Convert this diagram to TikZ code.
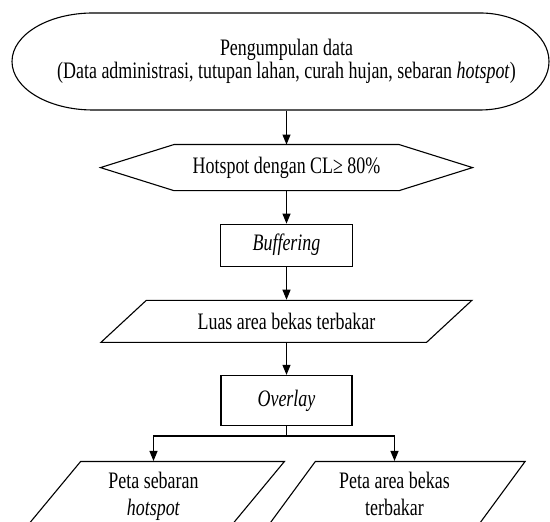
\documentclass[tikz,border=0pt]{standalone}
\usepackage{fontspec}
\setmainfont[FakeStretch=0.76]{Liberation Serif}
\usetikzlibrary{shapes.geometric, arrows.meta, positioning}

\begin{document}
\begin{tikzpicture}[font=\fontsize{11.8pt}{11.5pt}\selectfont, line width=0.55pt,
    >={Triangle[length=5pt, width=4pt]},
    process/.style={draw, minimum width=66pt, minimum height=21pt, inner sep=0pt},
    datashape/.style={draw, trapezium, trapezium stretches=true, inner sep=0pt, align=center}]
    \useasboundingbox (0,0) rectangle (275pt,-261pt);
    \clip (0,0) rectangle (275pt,-261pt);
    % Pengumpulan data
    \node[minimum height=48.5pt, align=center] (collect) at (143.25pt,-30.75pt) {Pengumpulan data\\(Data administrasi, tutupan lahan, curah hujan, sebaran \textit{hotspot})};
    \draw ([xshift=-96.75pt, yshift=24.25pt]collect.center) -- ([xshift=96.75pt, yshift=24.25pt]collect.center)
        arc[start angle=90, end angle=-90, x radius=34.5pt, y radius=24.25pt]
        -- ([xshift=-96.75pt, yshift=-24.25pt]collect.center)
        arc[start angle=270, end angle=90, x radius=40.5pt, y radius=24.25pt] -- cycle;
    % Hotspot
    \node[minimum width=112pt, minimum height=22.5pt, inner sep=0pt, below=17pt of collect] (hotspot) {Hotspot dengan CL≥ 80\%};
    \draw (hotspot.north west) -- (hotspot.north east) -- ([xshift=36.75pt]hotspot.east) -- (hotspot.south east)
        -- (hotspot.south west) -- ([xshift=-36.75pt]hotspot.west) -- cycle;
    % Buffering
    \node[process, below=16.5pt of hotspot] (buffer) {\textit{Buffering}};
    % Luas area
    \node[datashape, trapezium left angle=30, trapezium right angle=150, minimum width=185.5pt, minimum height=21pt, below=16.5pt of buffer] (area) {Luas area bekas terbakar};
    % Overlay
    \node[process, minimum width=65.5pt, minimum height=25pt, below=16pt of area] (overlay) {\textit{Overlay}};
    % Peta
    \node[datashape, trapezium left angle=54, trapezium right angle=126, minimum width=131.5pt, minimum height=35pt, text depth=3pt, font=\fontsize{11.8pt}{13.5pt}\selectfont, below=17.5pt of overlay, xshift=-66.5pt] (mapspot) {Peta sebaran\\\textit{hotspot}};
    \node[datashape, trapezium left angle=54, trapezium right angle=126, minimum width=131.5pt, minimum height=35pt, text depth=3pt, font=\fontsize{11.8pt}{13.5pt}\selectfont, below=17.5pt of overlay, xshift=54pt] (mapburn) {Peta area bekas\\terbakar};

    \draw[->] (collect.south) -- (hotspot.north);
    \draw[->] (hotspot.south) -- (buffer.north);
    \draw[->] (buffer.south) -- (area.north);
    \draw[->] (area.south) -- (overlay.north);
    \draw[->] (overlay.south) -- ++(0,-5pt) -| (mapspot.north);
    \draw[->] (overlay.south) -- ++(0,-5pt) -| (mapburn.north);
\end{tikzpicture}
\end{document}
